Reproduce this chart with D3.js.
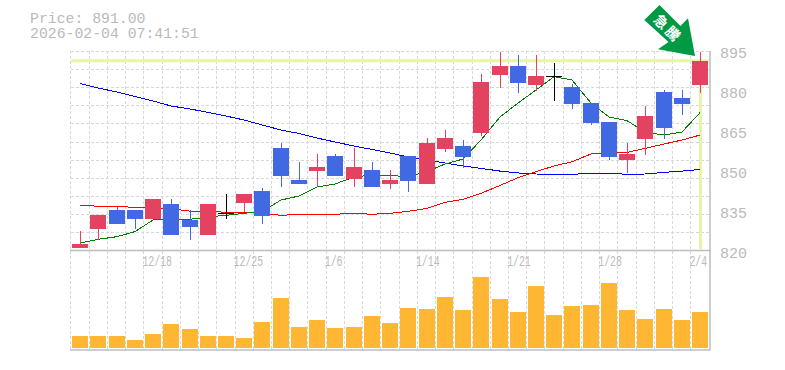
<!DOCTYPE html>
<html>
<head>
<meta charset="utf-8">
<script src="https://cdn.jsdelivr.net/npm/d3@7"></script>
<style>
html,body{margin:0;padding:0;background:#fff}
svg{display:block}
text{font-family:"Liberation Mono",monospace;fill:#bababa}
</style>
</head>
<body>
<svg id="chart" width="785" height="370"></svg>
<script>
const dates = ["12/12","12/15","12/16","12/17","12/18","12/19","12/22","12/23","12/24","12/25","12/26","12/29","12/30","1/5","1/6","1/7","1/8","1/9","1/13","1/14","1/15","1/16","1/19","1/20","1/21","1/22","1/23","1/26","1/27","1/28","1/29","1/30","2/2","2/3","2/4"]
const dateTicks = ["12/18","12/25","1/6","1/14","1/21","1/28","2/4"]
const priceTicks = [820,835,850,865,880,895]
const lastPrice = 891
const titleLines = ["Price: 891.00","2026-02-04 07:41:51"]

const open  = [820.75,827.9,835,835,831.6,837.25,831.25,825.6,834,837.6,842.1,858.25,846.25,849.6,855.25,846.6,850,844.75,855.25,844.75,857.9,859,863.9,885.6,889,881.9,885.1,881.1,875.1,868,853.75,861.6,879.25,877,881.9]
const high  = [827.1,833.1,836.1,835,839.1,839.1,835,837.25,841,841,843.25,860.1,853,856,856,858.25,853,850,855.25,862,865,861.25,886,894.25,893.1,893.1,890.1,882.25,875.1,868,860.1,874,880,880,894.25]
const low   = [820.75,823.75,829.75,827.9,831.6,825.6,823.75,825.6,831.6,834.25,829.75,843.6,844.75,843.6,847.75,843.6,843.6,842.9,841.75,844.75,856.75,850.75,862.75,880.75,878.9,879.6,875.9,872.9,866.9,853.75,848.9,855.6,861.6,870.6,878.9]
const close = [822.25,833.1,829.75,831.6,839.1,825.6,828.6,837.25,834,841,832.75,847.75,844.75,851.1,847.75,851.1,843.6,846.25,845.9,860.1,862,854.9,883,889,882.6,885.25,885.1,874.75,867.6,854.9,856,870.25,865.75,874.75,891]

const maShort = [822.6,824,825,826.9,831.25,831.5,831.5,832.4,833,833.75,834.4,838.75,840.25,843.6,844.75,847.4,848.1,848,847.4,849.4,852.25,854.1,861.25,869.9,875.1,880,885,883.75,875.1,869.9,868.5,864.25,863.1,864.25,871.5]
const maMid   = [836.8,836.4,836.3,836,835.75,835.4,834.6,834.6,834.1,834.1,833.75,833,833.4,833.4,833.4,833.75,833.4,833.75,834.5,835.6,837.9,839,841.25,844.2,847.1,849.4,851.5,853.1,856,856.6,856.6,858.1,859.75,861.25,863.1]
const maLong  = [882.4,880.75,879.25,877.6,875.9,874,872.9,871.6,870.25,868.75,866.9,865,863.7,862,860.5,859,857.7,856.4,854.9,853.75,852.6,851.5,850.6,849.6,848.9,848.5,848.4,848.4,848.7,848.75,848.4,848.5,849.1,849.6,850.2]

const volume = [12,12,12,8,14,24,19,12,12,10,26,50,21,28,20,21,32,25,40,39,51,38,71,49,36,62,33,42,43,65,38,29,39,28,36]

const svg = d3.select("#chart")

let x = d3.scaleBand().domain(dates).range([71,709.2])
let y = d3.scaleLinear().domain([820,895]).range([250,50])
let yVol = d3.scaleLinear().domain([0,100]).range([348,248])
let cx = d => Math.round(x(d)+x.bandwidth()/2)
let px = v => Math.round(v)+0.5

// grid, one cell per candle
let grid = svg.append("g").attr("stroke","#d8d8d8").attr("stroke-dasharray","3,2")
for(let i=0;i<dates.length;i++){
	let gx = px(x(dates[i])-0.6)
	grid.append("line").attr("x1",gx).attr("x2",gx).attr("y1",51).attr("y2",350)
}
for(let p of d3.range(820,896,6.78)){
	grid.append("line").attr("x1",71).attr("x2",710).attr("y1",px(y(p))).attr("y2",px(y(p)))
}

// last price marker
let mark = svg.append("g").attr("stroke","#e6f5a8").attr("stroke-width",3)
mark.append("line").attr("x1",71).attr("x2",709).attr("y1",y(lastPrice)).attr("y2",y(lastPrice))
mark.append("line").attr("x1",cx(dates[34])+0.5).attr("x2",cx(dates[34])+0.5).attr("y1",y(lastPrice)).attr("y2",249)

// frame
let frame = svg.append("g").attr("stroke","#bdbdbd").attr("stroke-width",1.5).attr("fill","none")
frame.append("line").attr("x1",70).attr("x2",710).attr("y1",250.5).attr("y2",250.5)
frame.append("line").attr("x1",70).attr("x2",710).attr("y1",350).attr("y2",350)
frame.append("line").attr("x1",710).attr("x2",710).attr("y1",51).attr("y2",350.5)

// volume
svg.append("g").selectAll("rect").data(volume).join("rect")
	.attr("x",(d,i)=>cx(dates[i])-8)
	.attr("width",16)
	.attr("y",d=>yVol(d))
	.attr("height",d=>yVol(0)-yVol(d))
	.attr("fill","#ffb733")

// moving averages
function maLine(values,color){
	let line = d3.line().x((d,i)=>cx(dates[i])).y(d=>y(d))
	svg.append("path").attr("d",line(values)).attr("fill","none").attr("stroke",color).attr("stroke-width",1).attr("shape-rendering","crispEdges")
}
maLine(maLong,"#0000ff")
maLine(maMid,"#ff0000")
maLine(maShort,"#008000")

// candles
function candleColor(i){
	if(close[i]===open[i]) return "#000000"
	return close[i]>open[i] ? "#e34360" : "#4169e1"
}
let candles = svg.append("g").attr("shape-rendering","crispEdges").selectAll("g").data(dates).join("g")
candles.append("line")
	.attr("x1",d=>cx(d)+0.5).attr("x2",d=>cx(d)+0.5)
	.attr("y1",(d,i)=>y(high[i])).attr("y2",(d,i)=>y(low[i]))
	.attr("stroke",(d,i)=>candleColor(i))
candles.append("rect")
	.attr("x",d=>cx(d)-8)
	.attr("width",16)
	.attr("y",(d,i)=>y(Math.max(open[i],close[i])))
	.attr("height",(d,i)=>Math.max(1,Math.abs(y(open[i])-y(close[i]))))
	.attr("fill",(d,i)=>candleColor(i))

// axes
let yAxis = d3.axisRight(y).tickValues(priceTicks).tickSize(0).tickPadding(0)
let yg = svg.append("g").attr("transform","translate(720,3)").call(yAxis)
yg.select(".domain").remove()
yg.selectAll("text").attr("font-size",15).attr("font-family",null).attr("fill",null)

let xAxis = d3.axisBottom(x).tickValues(dateTicks).tickSize(0).tickPadding(0)
let xg = svg.append("g").attr("transform","translate(0,256)").call(xAxis)
xg.select(".domain").remove()
// tall and narrow in the original, so squeeze the glyphs
xg.selectAll("text")
	.attr("text-anchor","start")
	.attr("x",-x.bandwidth()/2-1.5)
	.attr("font-size",14).attr("font-family",null).attr("fill",null)
	.attr("textLength",d=>d.length*5.9)
	.attr("lengthAdjust","spacingAndGlyphs")

// title
svg.selectAll(".title").data(titleLines).join("text")
	.attr("class","title")
	.attr("x",30)
	.attr("y",(d,i)=>23+i*15)
	.attr("font-size",14.8)
	.text(d=>d)

// arrow badge
let badge = svg.append("g")
badge.append("path").attr("d","M659.5,5 L644.3,20 L668.5,42 L658,49.3 L695,56 L688,18.3 L680.5,26 Z").attr("fill","#009944")
let badgeText = badge.append("g").attr("transform","translate(667,28) rotate(45)")
badgeText.append("text").attr("x",-8.5).attr("y",5).attr("text-anchor","middle").attr("font-size",14).attr("font-weight","bold")
	.style("font-family","'Noto Sans CJK JP'").style("fill","#fff").text("急")
badgeText.append("text").attr("x",8).attr("y",5).attr("text-anchor","middle").attr("font-size",14).attr("font-weight","bold")
	.style("font-family","'Noto Sans CJK JP'").style("fill","#fff").text("騰")
</script>
</body>
</html>
